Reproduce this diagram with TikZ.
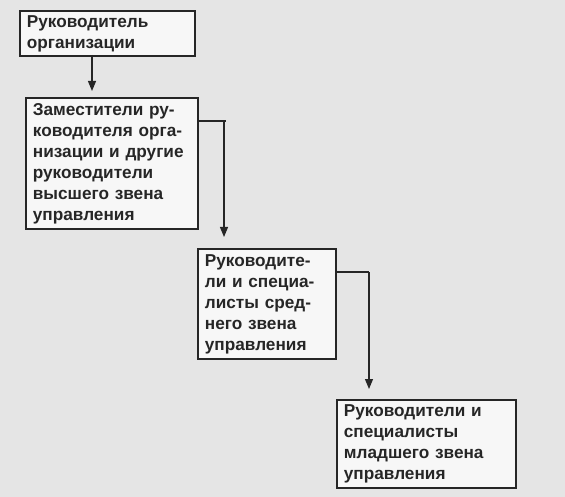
\documentclass[tikz,border=0pt]{standalone}
\usepackage{fontspec}
\setmainfont{Liberation Sans}
\usetikzlibrary{arrows.meta}
\definecolor{bg}{gray}{0.90}
\definecolor{ink}{gray}{0.15}
\tikzset{
  boxnode/.style={draw=ink, line width=1.8pt, fill=white!70!bg, anchor=north west,
    align=left, inner xsep=7pt, inner ysep=1pt,
    font=\fontsize{17.2}{21}\selectfont\bfseries, text=ink},
  conn/.style={draw=ink, line width=1.1pt, -{Triangle[length=10pt,width=8pt]}},
  plain/.style={draw=ink, line width=1.1pt}
}
\begin{document}
\begin{tikzpicture}[x=1pt,y=-1pt]
\fill[bg] (0,0) rectangle (565,497);
\useasboundingbox (0,0) rectangle (565,497);
\node[boxnode, text width=161pt, minimum height=45pt] (b1) at (19,10)
  {Руководитель\\организации};
\node[boxnode, text width=158pt, minimum height=131pt] (b2) at (25,97)
  {Заместители ру-\\ководителя орга-\\низации и другие\\руководители\\высшего звена\\управления};
\node[boxnode, text width=124pt, minimum height=110pt] (b3) at (197,248)
  {Руководите-\\ли и специа-\\листы сред-\\него звена\\управления};
\node[boxnode, text width=165pt, minimum height=88pt] (b4) at (336,399)
  {Руководители и\\специалисты\\младшего звена\\управления};
\coordinate (c1) at (226,121);
\coordinate (c2) at (369,272);
\draw[conn] (92,55) -- (92,91);
\draw[plain] (b2.east |- c1) -- (c1);
\draw[conn] (224,121) -- (224,237);
\draw[plain] (b3.east |- c2) -- (c2);
\draw[conn] (369,272) -- (369,389);
\end{tikzpicture}
\end{document}
